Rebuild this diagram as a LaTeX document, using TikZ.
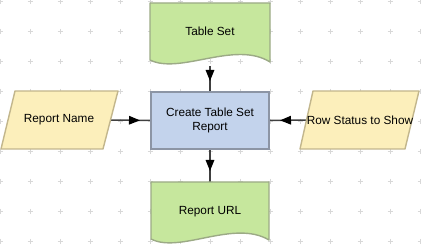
\documentclass[tikz,border=0pt]{standalone}
\usepackage{fontspec}
\setmainfont{Liberation Sans}
\usetikzlibrary{arrows.meta,decorations.markings}
\pgfdeclarelayer{bg}
\pgfsetlayers{bg,main}
\definecolor{docfill}{HTML}{C6E79D}
\definecolor{docline}{HTML}{9CAA86}
\definecolor{iofill}{HTML}{FCEFBB}
\definecolor{ioline}{HTML}{C2B68C}
\definecolor{procfill}{HTML}{C3D3EC}
\definecolor{procline}{HTML}{8C95A5}
\definecolor{connline}{HTML}{404040}
\definecolor{gridc}{HTML}{D8D8D8}
\tikzset{
  x=1pt,y=-1pt,
  lbl/.style={font=\fontsize{11.8}{13.3}\selectfont, align=center, inner sep=0pt, text=black},
  holder/.style={inner sep=0pt, outer sep=0pt},
  docshape/.style={fill=docfill, draw=docline, line width=1.4pt, line join=round},
  ioshape/.style={fill=iofill, draw=ioline, line width=1.4pt, line join=round},
  procbox/.style={fill=procfill, draw=procline, line width=1.4pt, minimum width=118pt, minimum height=57pt, inner sep=0pt, outer sep=0pt},
  flow/.style={draw=connline, line width=1.5pt,
    postaction={decorate},
    decoration={markings, mark=at position -11pt with {\arrow[black]{Triangle[length=11pt,width=8.5pt]}}}},
}
\begin{document}
\begin{tikzpicture}
\useasboundingbox (0,0) rectangle (421,248);
% grid crosses
\begin{pgfonlayer}{bg}
\foreach \gx in {0,30,...,420}{
  \foreach \gy in {1.5,31.5,...,248}{
    \draw[gridc, line width=0.8pt] (\gx-2.5,\gy) -- (\gx+2.5,\gy) (\gx,\gy-2.5) -- (\gx,\gy+2.5);
  }
}
\end{pgfonlayer}
% shapes
\draw[docshape] (150,3) -- (270,3) -- (270,62) .. controls (235,40) and (180,75) .. (150,60) -- cycle;
\node[holder, minimum width=120pt, minimum height=59pt] (ts) at (210,32.5) {};
\node[lbl] at (210,31) {Table Set};

\draw[docshape] (151,182) -- (269,182) -- (269,240) .. controls (234,219) and (180,254) .. (151,239) -- cycle;
\node[holder, minimum width=118pt, minimum height=59pt] (ru) at (210,211.5) {};
\node[lbl] at (210,212) {Report URL};

\node[procbox] (box) at (210,120.5) {};
\node[lbl] at (210,120.5) {Create Table Set\\Report};

\draw[ioshape] (15,91) -- (118,91) -- (103,149) -- (1,149) -- cycle;
\node[holder, minimum width=102.5pt, minimum height=58pt] (rn) at (59.25,120) {};
\node[lbl] at (59,120) {Report Name};

\draw[ioshape] (313,91) -- (419,91) -- (405,149) -- (300,149) -- cycle;
\node[holder, minimum width=105.5pt, minimum height=58pt] (rs) at (359.25,120) {};
\node[lbl] at (360,120) {Row Status to Show};

% connectors
\begin{pgfonlayer}{bg}
\draw[flow] ([yshift=-4pt]ts.south) -- (box.north);
\draw[flow] (rn.east) -- (box.west);
\draw[flow] (rs.west) -- (box.east);
\draw[flow] (box.south) -- (ru.north);
\end{pgfonlayer}
\end{tikzpicture}
\end{document}
